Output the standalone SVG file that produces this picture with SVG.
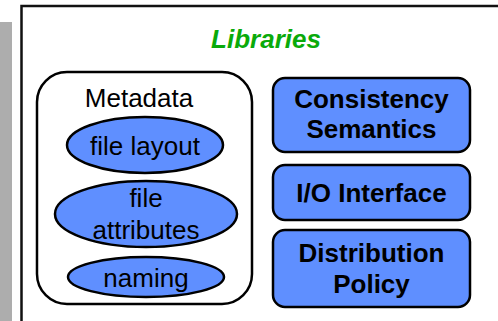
<svg xmlns="http://www.w3.org/2000/svg" width="498" height="321" viewBox="0 0 498 321">
  <style>
    .lbl { font-family: "Liberation Sans", Arial, sans-serif; font-size: 26px; fill: #000; text-anchor: middle; }
    .bold { font-weight: bold; }
    .item { fill: #5f8fff; stroke: #000; stroke-width: 2.5; }
    .title { font-family: "Liberation Sans", Arial, sans-serif; font-size: 26px; font-weight: bold; font-style: italic; fill: #0aaa0a; text-anchor: middle; }
  </style>
  <rect width="498" height="321" fill="#fff"/>
  <!-- side bar -->
  <rect x="0" y="22" width="12" height="299" fill="#adadad"/>
  <!-- outer frame -->
  <path d="M21.5 321 V6 H498" fill="none" stroke="#111" stroke-width="2.5"/>
  <text class="title" x="266" y="48">Libraries</text>

  <g id="metadata">
    <rect x="37" y="72" width="215" height="232" rx="30" ry="30" fill="#fff" stroke="#000" stroke-width="2.5"/>
    <text class="lbl" x="139" y="107">Metadata</text>
  </g>
  <g id="file-layout">
    <ellipse class="item" cx="145" cy="145" rx="78" ry="28"/>
    <text class="lbl" x="145" y="155">file layout</text>
  </g>
  <g id="file-attributes">
    <ellipse class="item" cx="146" cy="214" rx="91" ry="33"/>
    <text class="lbl" x="146" y="207">file</text>
    <text class="lbl" x="146" y="239">attributes</text>
  </g>
  <g id="naming">
    <ellipse class="item" cx="146" cy="277" rx="78" ry="20"/>
    <text class="lbl" x="146" y="287">naming</text>
  </g>

  <g id="consistency-semantics">
    <rect class="item" x="273" y="78" width="197" height="74" rx="12" ry="12"/>
    <text class="lbl bold" x="371.5" y="108">Consistency</text>
    <text class="lbl bold" x="371.5" y="138">Semantics</text>
  </g>
  <g id="io-interface">
    <rect class="item" x="273" y="165" width="197" height="55" rx="12" ry="12"/>
    <text class="lbl bold" x="371.5" y="202">I/O Interface</text>
  </g>
  <g id="distribution-policy">
    <rect class="item" x="273" y="230" width="197" height="77" rx="12" ry="12"/>
    <text class="lbl bold" x="371.5" y="262">Distribution</text>
    <text class="lbl bold" x="371.5" y="293">Policy</text>
  </g>
  <g id="connectors"></g>
</svg>
